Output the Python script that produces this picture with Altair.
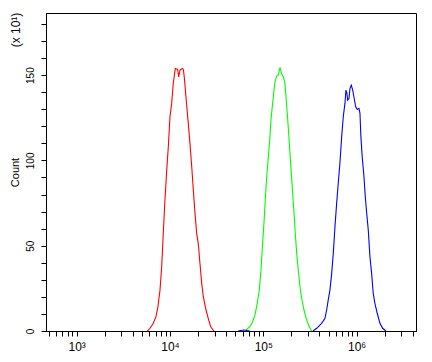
import altair as alt
import pandas as pd

# log10(intensity) and count (x10) for each histogram
red_log = [3.757, 3.786, 3.821, 3.850, 3.871, 3.893, 3.911, 3.928, 3.946, 3.965, 3.982, 4.000,
           4.018, 4.035, 4.057, 4.082, 4.093, 4.107, 4.132, 4.143, 4.153, 4.171, 4.196, 4.214,
           4.233, 4.250, 4.268, 4.286, 4.303, 4.321, 4.340, 4.357, 4.386, 4.410, 4.436, 4.471]
red_cnt = [0, 1.6, 4.5, 8.4, 14.2, 24.0, 37.7, 57.2, 76.8, 94.3, 108.0, 125.6,
           133.4, 145.1, 153.9, 153.3, 149.0, 152.9, 153.9, 153.3, 149.0, 137.3, 121.7, 110.0,
           96.3, 82.6, 69.0, 57.2, 51.4, 39.7, 27.9, 20.1, 12.3, 7.4, 2.5, 0]

green_log = [4.814, 4.857, 4.886, 4.911, 4.935, 4.957, 4.975, 4.993, 5.007, 5.021, 5.036, 5.054,
             5.069, 5.082, 5.096, 5.111, 5.125, 5.143, 5.161, 5.179, 5.197, 5.214, 5.232, 5.243,
             5.257, 5.272, 5.286, 5.300, 5.315, 5.329, 5.343, 5.358, 5.375, 5.393, 5.411, 5.436,
             5.465, 5.493, 5.518]
green_cnt = [0.6, 2.5, 5.4, 9.4, 16.2, 24.0, 35.7, 51.4, 63.1, 76.8, 90.4, 102.1,
             111.9, 123.6, 131.4, 139.3, 146.1, 149.4, 150.0, 154.5, 150.6, 149.0, 145.1, 137.3,
             127.6, 115.8, 104.1, 92.4, 80.7, 69.0, 57.2, 45.5, 35.7, 26.0, 19.2, 12.3,
             6.4, 2.5, 0]

blue_pre_log = [4.729, 4.790, 4.857]
blue_pre_cnt = [0, 0.6, 0]

blue_log = [5.532, 5.572, 5.625, 5.661, 5.679, 5.696, 5.714, 5.733, 5.750, 5.768, 5.786, 5.803,
            5.821, 5.840, 5.857, 5.875, 5.886, 5.896, 5.904, 5.918, 5.929, 5.943, 5.958, 5.971,
            5.990, 6.007, 6.025, 6.036, 6.046, 6.060, 6.079, 6.093, 6.108, 6.125, 6.143, 6.161,
            6.178, 6.196, 6.221, 6.250, 6.279, 6.314]
blue_cnt = [0, 1.6, 4.5, 7.4, 12.3, 18.2, 24.0, 33.8, 45.5, 61.1, 74.8, 86.5,
            98.3, 113.8, 125.6, 133.4, 141.2, 139.3, 135.3, 136.3, 142.2, 144.1, 141.2, 137.3,
            131.4, 129.9, 130.5, 127.6, 113.8, 102.1, 90.4, 78.7, 69.0, 59.2, 43.5, 33.8,
            22.1, 16.2, 10.4, 4.5, 1.6, 0]

x_ticks = [m * 10 ** d for d in (2, 3, 4, 5, 6) for m in range(1, 10)]
x_ticks = [t for t in x_ticks if 469 <= t <= 4.3e6]
y_ticks = list(range(0, 190, 10))

rows = []
for seg, col, lx, cy in [("red", "red", red_log, red_cnt),
                         ("green", "green", green_log, green_cnt),
                         ("blue_pre", "blue", blue_pre_log, blue_pre_cnt),
                         ("blue", "blue", blue_log, blue_cnt)]:
    for i, (a, b) in enumerate(zip(lx, cy)):
        rows.append({"seg": seg, "series": col, "x": 10 ** a, "y": b, "i": i})
df = pd.DataFrame(rows)

font = "Liberation Sans"

x_label_expr = ("datum.value == 1000 ? '10³' : datum.value == 10000 ? '10⁴' : "
                "datum.value == 100000 ? '10⁵' : datum.value == 1000000 ? '10⁶' : ''")
y_label_expr = "datum.value % 50 == 0 ? datum.value : ''"

lines = alt.Chart(df).mark_line(strokeWidth=1.1, interpolate="linear").encode(
    x=alt.X("x:Q", scale=alt.Scale(type="log", domain=[469, 4.33e6], nice=False),
            axis=alt.Axis(values=x_ticks, labelExpr=x_label_expr, labelOverlap=False,
                          grid=False, title=None, tickSize=5, labelFontSize=12,
                          labelFont=font, labelColor="black", tickColor="black",
                          domainColor="black", labelPadding=5, labelFlush=False)),
    y=alt.Y("y:Q", scale=alt.Scale(domain=[0, 186.4], nice=False, zero=True),
            axis=alt.Axis(values=y_ticks, labelExpr=y_label_expr, labelOverlap=False,
                          grid=False, title="Count", tickSize=5, labelFontSize=10,
                          labelFont=font, labelColor="black", tickColor="black",
                          domainColor="black", labelAngle=270, labelAlign="center",
                          labelBaseline="bottom", labelPadding=6, labelFlush=False,
                          titleX=-30.5, titleY=159, titleAngle=270, titleAlign="center",
                          titleBaseline="middle", titleFont=font, titleFontSize=11,
                          titleFontWeight="normal", titleColor="black")),
    color=alt.Color("series:N", scale=alt.Scale(domain=["red", "green", "blue"],
                                                range=["#ff0000", "#00ff00", "#0000ff"]),
                    legend=None),
    detail="seg:N",
    order="i:Q",
)

note = alt.Chart(pd.DataFrame({"t": ["(x 10¹)"]})).mark_text(
    angle=270, align="center", baseline="middle", fontSize=12, font=font, color="black"
).encode(text="t:N", x=alt.value(-30), y=alt.value(17))

chart = alt.layer(lines, note).properties(
    width=370, height=318,
    padding={"left": 38, "top": 5, "right": 8, "bottom": 25},
    autosize=alt.AutoSizeParams(type="none"),
).configure_view(stroke="black", strokeWidth=1)

chart.save("out.html", embed_options={"renderer": "svg", "actions": False})
